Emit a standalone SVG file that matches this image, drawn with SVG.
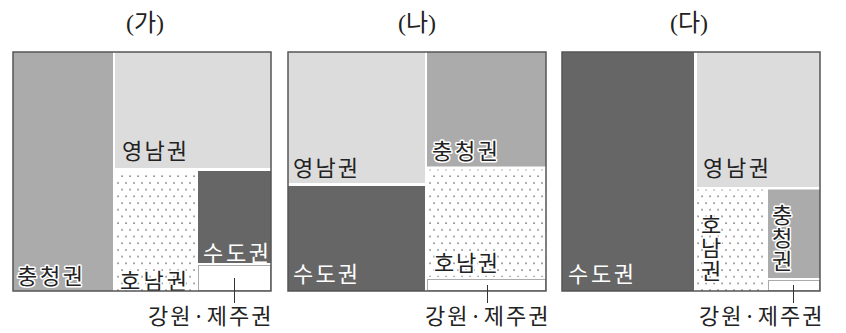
<svg xmlns="http://www.w3.org/2000/svg" width="846" height="333" viewBox="0 0 846 333">
<style>
.title{font-family:"Liberation Serif","Noto Sans CJK KR",serif;font-size:24px;fill:#222;text-anchor:middle}
.lbl{font-family:"Noto Sans CJK KR",sans-serif;font-size:22px;fill:#222}
.wt{fill:#fff}
.halo{paint-order:stroke;stroke:#fff;stroke-width:3;stroke-linejoin:round}
.vt{writing-mode:vertical-rl;text-orientation:upright;letter-spacing:1px}
.outer{fill:none;stroke:#555;stroke-width:1.5}
.cc{fill:#ababab}
.yn{fill:#dcdcdc}
.sd{fill:#666}
.hn{fill:url(#dots)}
.gw{fill:#fff;stroke:#aaa;stroke-width:1}
.lead{stroke:#333;stroke-width:1}
.gl{letter-spacing:2px}
</style>
<defs>
<pattern id="dots" width="8" height="13.4" patternUnits="userSpaceOnUse">
<rect width="8" height="13.4" fill="#fff"/>
<rect x="1.4" y="1.4" width="1.3" height="1.3" fill="#444"/>
<rect x="5.4" y="8.1" width="1.3" height="1.3" fill="#444"/>
</pattern>
</defs>
<rect width="846" height="333" fill="#fff"/>

<text class="title" x="145" y="31">(가)</text>
<text class="title" x="417" y="31">(나)</text>
<text class="title" x="689" y="31">(다)</text>

<!-- Panel 가 -->
<g id="p1-chungcheong"><rect class="cc" x="13" y="52" width="100" height="239"/><text class="lbl halo" x="17" y="284" textLength="66" lengthAdjust="spacing">충청권</text></g>
<g id="p1-yeongnam"><rect class="yn" x="115" y="52" width="156" height="116"/><text class="lbl" x="122" y="159" textLength="65" lengthAdjust="spacing">영남권</text></g>
<g id="p1-honam"><rect class="hn" x="115.5" y="171" width="80.5" height="120"/><text class="lbl halo" x="120" y="289" textLength="67" lengthAdjust="spacing">호남권</text></g>
<g id="p1-sudo"><rect class="sd" x="198" y="171" width="73" height="92"/><text class="lbl wt" x="203" y="261" textLength="66" lengthAdjust="spacing">수도권</text></g>
<g id="p1-gangwon"><rect class="gw" x="198.5" y="265.5" width="72" height="25"/><text class="lbl gl" x="148" y="324">강원·제주권</text></g>
<rect class="outer" x="13" y="52" width="258" height="239"/>

<!-- Panel 나 -->
<g id="p2-yeongnam"><rect class="yn" x="288" y="52" width="137" height="131"/><text class="lbl" x="293" y="176" textLength="65" lengthAdjust="spacing">영남권</text></g>
<g id="p2-sudo"><rect class="sd" x="288" y="186" width="137" height="105"/><text class="lbl wt" x="293" y="282" textLength="65" lengthAdjust="spacing">수도권</text></g>
<g id="p2-chungcheong"><rect class="cc" x="427" y="52" width="119" height="114.5"/><text class="lbl halo" x="432" y="159" textLength="66" lengthAdjust="spacing">충청권</text></g>
<g id="p2-honam"><rect class="hn" x="427.5" y="169.5" width="118" height="107.5"/><text class="lbl halo" x="434" y="271" textLength="64" lengthAdjust="spacing">호남권</text></g>
<g id="p2-gangwon"><rect class="gw" x="427.5" y="279.5" width="118" height="11"/><text class="lbl gl" x="425" y="324">강원·제주권</text></g>
<rect class="outer" x="288" y="52" width="258" height="239"/>

<!-- Panel 다 -->
<g id="p3-sudo"><rect class="sd" x="562" y="52" width="132" height="239"/><text class="lbl wt" x="568" y="282" textLength="66" lengthAdjust="spacing">수도권</text></g>
<g id="p3-yeongnam"><rect class="yn" x="697" y="52" width="123" height="135"/><text class="lbl" x="703" y="176" textLength="66" lengthAdjust="spacing">영남권</text></g>
<g id="p3-honam"><rect class="hn" x="697" y="189.5" width="68" height="101.5"/>
<text class="lbl halo vt" x="711" y="214">호남권</text></g>
<g id="p3-chungcheong"><rect class="cc" x="768" y="189.5" width="52" height="88.5"/>
<text class="lbl halo vt" x="782" y="204">충청권</text></g>
<g id="p3-gangwon"><rect class="gw" x="768.5" y="280.5" width="51" height="10"/><text class="lbl gl" x="699" y="324">강원·제주권</text></g>
<rect class="outer" x="562" y="52" width="258" height="239"/>

<g id="connectors">
<line class="lead" x1="234.5" y1="278" x2="234.5" y2="303"/>
<line class="lead" x1="487.5" y1="285" x2="487.5" y2="303"/>
<line class="lead" x1="793.5" y1="285" x2="793.5" y2="303"/>
</g>
</svg>
